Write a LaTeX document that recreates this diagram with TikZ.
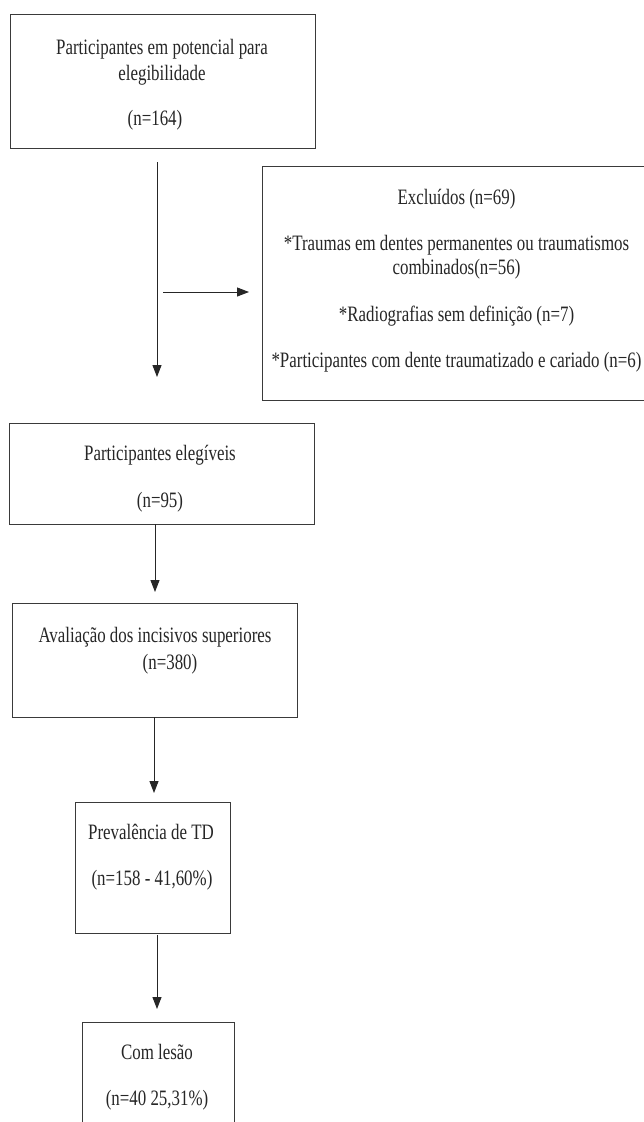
\documentclass[tikz,border=0pt]{standalone}
\usepackage{graphicx}
\usepackage{fontspec}
\setmainfont{Liberation Serif}
\usetikzlibrary{arrows.meta}
\definecolor{ink}{HTML}{262626}
\definecolor{edge}{HTML}{3A3A3A}
\newcommand{\vst}[1]{\scalebox{1}[1.3]{#1}}
\tikzset{
  boxnode/.style={draw=edge, line width=1pt, inner sep=0pt, outer sep=0pt},
  txt/.style={anchor=base, inner sep=0pt, text=ink, font=\fontsize{16.9}{20}\selectfont},
  arr/.style={draw=ink, line width=1pt, -{Triangle[length=12pt,width=9pt]}},
}
\begin{document}
\begin{tikzpicture}[x=1pt, y=-1pt]
\useasboundingbox (0,0) rectangle (644,1122);
\fill[white] (0,0) rectangle (644,1122);
\clip (0,0) rectangle (644,1122);
% boxes
\node[boxnode, minimum width=305pt, minimum height=134pt] (b1) at (162.5,81) {};
\node[boxnode, minimum width=389pt, minimum height=234pt] (bx) at (456.5,283) {};
\node[boxnode, minimum width=305pt, minimum height=101pt] (b2) at (161.5,473.5) {};
\node[boxnode, minimum width=285pt, minimum height=114pt] (b3) at (154.5,660) {};
\node[boxnode, minimum width=155pt, minimum height=131pt] (b4) at (152.5,867.5) {};
\node[boxnode, minimum width=152pt, minimum height=118pt] (b5) at (158,1081) {};
% texts
\node[txt] (t1a) at (162,54) {\vst{Participantes em potencial para}};
\node[txt] (t1b) at (162,80) {\vst{elegibilidade}};
\node[txt] (t1c) at (155,125) {\vst{(n=164)}};
\node[txt] (txa) at (456.5,204) {\vst{Excluídos (n=69)}};
\node[txt] (txb) at (456.5,250) {\vst{*Traumas em dentes permanentes ou traumatismos}};
\node[txt] (txc) at (456.5,274) {\vst{combinados(n=56)}};
\node[txt] (txd) at (456.5,321) {\vst{*Radiografias sem definição (n=7)}};
\node[txt] (txe) at (456.5,367) {\vst{*Participantes com dente traumatizado e cariado (n=6)}};
\node[txt] (t2a) at (160,460) {\vst{Participantes elegíveis}};
\node[txt] (t2b) at (160,507) {\vst{(n=95)}};
\node[txt] (t3a) at (155,642) {\vst{Avaliação dos incisivos superiores}};
\node[txt] (t3b) at (170,669) {\vst{(n=380)}};
\node[txt] (t4a) at (151,839) {\vst{Prevalência de TD}};
\node[txt] (t4b) at (152,885) {\vst{(n=158 - 41,60\%)}};
\node[txt] (t5a) at (157,1059) {\vst{Com lesão}};
\node[txt] (t5b) at (157,1105) {\vst{(n=40 25,31\%)}};
% connectors
\coordinate (a1s) at (157,162);
\coordinate (a1e) at (157,377);
\coordinate (ahs) at (163,292);
\coordinate (ahe) at (249,292);
\coordinate (a2e) at (155,592);
\coordinate (a3e) at (154,793);
\coordinate (a4s) at (157,935);
\coordinate (a4e) at (157,1009);
\draw[arr] (a1s) -- (a1e);
\draw[arr] (ahs) -- (ahe);
\draw[arr] (a2e |- b2.south) -- (a2e);
\draw[arr] (a3e |- b3.south) -- (a3e);
\draw[arr] (a4s) -- (a4e);
\end{tikzpicture}
\end{document}
